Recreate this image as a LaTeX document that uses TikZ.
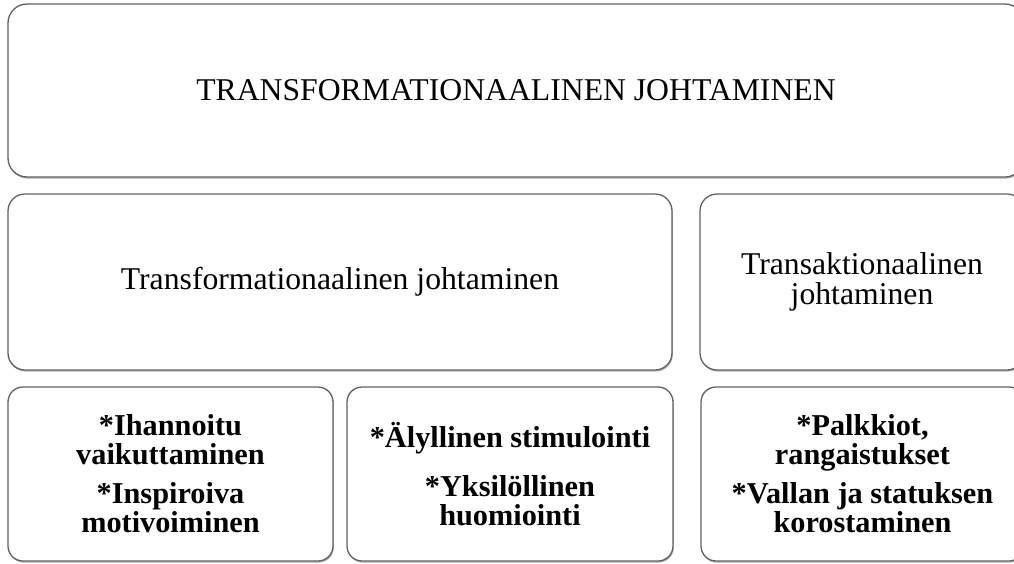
\documentclass[tikz,border=0pt]{standalone}
\usepackage{fontspec}
\setmainfont{Liberation Serif}
\usetikzlibrary{shadows}
\begin{document}
\begin{tikzpicture}[x=1pt,y=-1pt,
  box/.style={draw=black!62, line width=1.3pt, fill=white, rounded corners=#1, inner sep=0pt, align=center,
    drop shadow={shadow xshift=0.8pt, shadow yshift=-1.6pt, fill=black, opacity=0.3}},
  bigtext/.style={font=\fontsize{31.7}{30}\selectfont},
  smalltext/.style={font=\fontsize{30.3}{29}\selectfont\bfseries}
]
\useasboundingbox (0,0) rectangle (1014,563);
\clip (0,0) rectangle (1014,563);
\node[box=19pt, bigtext, minimum width=1016pt, minimum height=173pt] (top) at (516,90.5) {TRANSFORMATIONAALINEN JOHTAMINEN};
\node[box=17pt, bigtext, minimum width=664pt, minimum height=176pt] (tfl) at (340,282) {Transformationaalinen johtaminen};
\node[box=17pt, bigtext, minimum width=324pt, minimum height=176pt] (tsa) at (862,282) {Transaktionaalinen\\johtaminen};
\node[box=15pt, smalltext, minimum width=325pt, minimum height=174pt] (b1) at (170.5,474) {*Ihannoitu\\vaikuttaminen\\[10pt]*Inspiroiva\\motivoiminen};
\node[box=15pt, smalltext, minimum width=326pt, minimum height=174pt] (b2) at (510,474) {*Älyllinen stimulointi\\[20pt]*Yksilöllinen\\huomiointi};
\node[box=15pt, smalltext, minimum width=323pt, minimum height=174pt] (b3) at (862.5,474) {*Palkkiot,\\rangaistukset\\[10pt]*Vallan ja statuksen\\korostaminen};
\end{tikzpicture}
\end{document}
